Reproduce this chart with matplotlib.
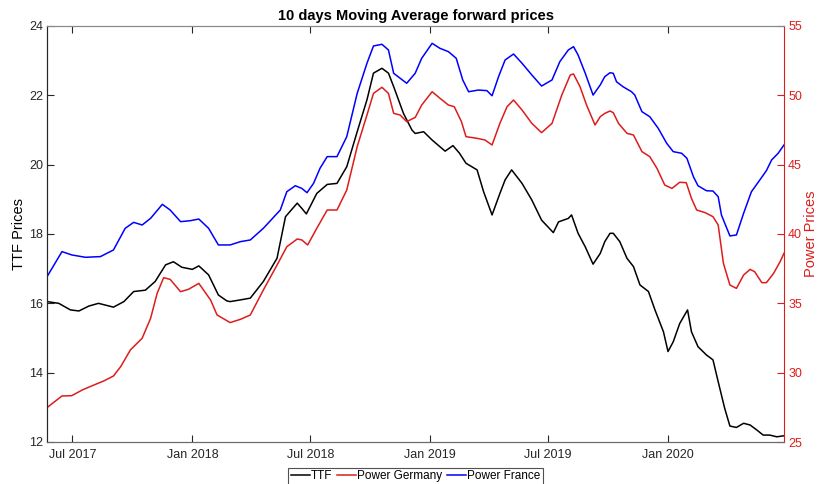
import matplotlib
matplotlib.use("Agg")
import matplotlib.pyplot as plt
import matplotlib.dates as mdates
import pandas as pd

plt.rcParams['font.family'] = ['Liberation Sans', 'DejaVu Sans']

# ---------------- data ----------------
ttf_dates = ["2017-05-23", "2017-06-10", "2017-06-28", "2017-07-11", "2017-07-26", "2017-08-10",
             "2017-09-02", "2017-09-18", "2017-10-03", "2017-10-21", "2017-11-05", "2017-11-21",
             "2017-12-03", "2017-12-16", "2018-01-01", "2018-01-11", "2018-01-26", "2018-02-10",
             "2018-02-23", "2018-02-28", "2018-03-16", "2018-03-31", "2018-04-20", "2018-05-11",
             "2018-05-24", "2018-06-11", "2018-06-18", "2018-06-25", "2018-07-11", "2018-07-27",
             "2018-08-11", "2018-08-26", "2018-09-11", "2018-09-26", "2018-10-06", "2018-10-19",
             "2018-10-29", "2018-11-06", "2018-11-21", "2018-12-04", "2018-12-09", "2018-12-22",
             "2019-01-04", "2019-01-24", "2019-02-05", "2019-02-15", "2019-02-25", "2019-03-14",
             "2019-03-24", "2019-04-06", "2019-04-18", "2019-04-26", "2019-05-06", "2019-05-22",
             "2019-06-06", "2019-06-21", "2019-07-09", "2019-07-17", "2019-08-01", "2019-08-06",
             "2019-08-16", "2019-08-27", "2019-09-08", "2019-09-19", "2019-09-26", "2019-10-04",
             "2019-10-09", "2019-10-19", "2019-10-30", "2019-11-09", "2019-11-19", "2019-12-02",
             "2019-12-12", "2019-12-25", "2020-01-01", "2020-01-09", "2020-01-19", "2020-01-31",
             "2020-02-06", "2020-02-16", "2020-02-29", "2020-03-10", "2020-03-18", "2020-03-28",
             "2020-04-05", "2020-04-15", "2020-04-26", "2020-05-06", "2020-05-16", "2020-05-26",
             "2020-06-05", "2020-06-16", "2020-06-27"]
ttf_values = [16.05, 16.00, 15.81, 15.78, 15.92, 16.00,
              15.89, 16.05, 16.34, 16.38, 16.63, 17.11,
              17.20, 17.04, 16.98, 17.08, 16.82, 16.24,
              16.07, 16.05, 16.10, 16.15, 16.63, 17.30,
              18.50, 18.89, 18.74, 18.58, 19.17, 19.43,
              19.46, 19.94, 20.95, 21.87, 22.64, 22.78,
              22.64, 22.25, 21.48, 21.00, 20.90, 20.95,
              20.71, 20.39, 20.55, 20.33, 20.04, 19.85,
              19.22, 18.55, 19.17, 19.56, 19.85, 19.46,
              18.98, 18.40, 18.04, 18.35, 18.45, 18.55,
              18.02, 17.63, 17.13, 17.44, 17.78, 18.02,
              18.02, 17.78, 17.30, 17.06, 16.53, 16.34,
              15.81, 15.18, 14.61, 14.89, 15.42, 15.81,
              15.18, 14.75, 14.51, 14.37, 13.74, 12.97,
              12.46, 12.42, 12.54, 12.49, 12.35, 12.20,
              12.20, 12.15, 12.18]

de_dates = ["2017-05-23", "2017-06-15", "2017-06-30", "2017-07-16", "2017-08-03", "2017-08-18",
            "2017-09-02", "2017-09-13", "2017-09-28", "2017-10-16", "2017-10-29", "2017-11-08",
            "2017-11-18", "2017-11-28", "2017-12-14", "2017-12-26", "2018-01-11", "2018-01-29",
            "2018-02-08", "2018-02-23", "2018-02-28", "2018-03-16", "2018-03-31", "2018-04-20",
            "2018-05-11", "2018-05-26", "2018-06-11", "2018-06-18", "2018-06-27", "2018-07-11",
            "2018-07-27", "2018-08-11", "2018-08-26", "2018-09-11", "2018-09-26", "2018-10-06",
            "2018-10-19", "2018-10-29", "2018-11-06", "2018-11-16", "2018-11-26", "2018-12-06",
            "2018-12-09", "2018-12-19", "2019-01-04", "2019-01-16", "2019-01-29", "2019-02-07",
            "2019-02-18", "2019-02-25", "2019-03-14", "2019-03-26", "2019-04-06", "2019-04-18",
            "2019-04-29", "2019-05-09", "2019-05-22", "2019-06-06", "2019-06-21", "2019-07-07",
            "2019-07-22", "2019-08-04", "2019-08-09", "2019-08-19", "2019-08-29", "2019-09-11",
            "2019-09-19", "2019-09-26", "2019-10-04", "2019-10-09", "2019-10-17", "2019-10-30",
            "2019-11-09", "2019-11-22", "2019-12-04", "2019-12-15", "2019-12-27", "2020-01-07",
            "2020-01-19", "2020-01-29", "2020-02-06", "2020-02-14", "2020-02-27", "2020-03-10",
            "2020-03-18", "2020-03-26", "2020-04-05", "2020-04-15", "2020-04-26", "2020-05-06",
            "2020-05-13", "2020-05-24", "2020-05-31", "2020-06-11", "2020-06-21", "2020-06-27"]
de_values = [27.48, 28.32, 28.34, 28.75, 29.11, 29.40,
             29.76, 30.43, 31.64, 32.48, 33.92, 35.72,
             36.85, 36.73, 35.84, 36.01, 36.44, 35.24,
             34.16, 33.75, 33.61, 33.85, 34.16, 35.96,
             37.76, 39.08, 39.64, 39.57, 39.21, 40.41,
             41.73, 41.73, 43.17, 46.30, 48.58, 50.14,
             50.58, 50.14, 48.70, 48.58, 48.10, 48.34,
             48.40, 49.30, 50.26, 49.79, 49.30, 49.18,
             48.10, 47.02, 46.90, 46.78, 46.42, 47.98,
             49.18, 49.66, 48.94, 47.98, 47.31, 47.98,
             50.02, 51.47, 51.54, 50.62, 49.30, 47.86,
             48.46, 48.70, 48.87, 48.75, 47.98, 47.26,
             47.14, 45.94, 45.58, 44.74, 43.53, 43.29,
             43.73, 43.70, 42.57, 41.73, 41.54, 41.25,
             40.65, 37.89, 36.32, 36.08, 37.04, 37.45,
             37.28, 36.49, 36.49, 37.16, 38.00, 38.61]

fr_dates = ["2017-05-23", "2017-06-15", "2017-06-30", "2017-07-21", "2017-08-13", "2017-09-02",
            "2017-09-20", "2017-10-03", "2017-10-16", "2017-10-29", "2017-11-16", "2017-11-28",
            "2017-12-14", "2017-12-29", "2018-01-11", "2018-01-26", "2018-02-10", "2018-02-28",
            "2018-03-16", "2018-03-31", "2018-04-20", "2018-05-16", "2018-05-26", "2018-06-08",
            "2018-06-18", "2018-06-26", "2018-07-06", "2018-07-16", "2018-07-27", "2018-08-11",
            "2018-08-26", "2018-09-11", "2018-09-26", "2018-10-06", "2018-10-19", "2018-10-29",
            "2018-11-06", "2018-11-16", "2018-11-26", "2018-12-09", "2018-12-19", "2019-01-04",
            "2019-01-16", "2019-01-29", "2019-02-10", "2019-02-20", "2019-03-01", "2019-03-16",
            "2019-03-29", "2019-04-06", "2019-04-16", "2019-04-26", "2019-05-09", "2019-05-22",
            "2019-06-06", "2019-06-21", "2019-07-07", "2019-07-19", "2019-08-01", "2019-08-09",
            "2019-08-16", "2019-08-27", "2019-09-08", "2019-09-19", "2019-09-26", "2019-10-04",
            "2019-10-09", "2019-10-14", "2019-10-24", "2019-11-06", "2019-11-11", "2019-11-22",
            "2019-12-04", "2019-12-17", "2019-12-30", "2020-01-09", "2020-01-22", "2020-01-30",
            "2020-02-09", "2020-02-16", "2020-02-29", "2020-03-10", "2020-03-18", "2020-03-23",
            "2020-04-05", "2020-04-15", "2020-04-26", "2020-05-08", "2020-05-19", "2020-05-31",
            "2020-06-08", "2020-06-18", "2020-06-27"]
fr_values = [36.92, 38.73, 38.49, 38.32, 38.37, 38.85,
             40.41, 40.84, 40.65, 41.13, 42.14, 41.73,
             40.89, 40.96, 41.08, 40.41, 39.21, 39.21,
             39.45, 39.57, 40.41, 41.73, 43.05, 43.48,
             43.29, 42.98, 43.65, 44.74, 45.58, 45.58,
             47.02, 50.14, 52.31, 53.56, 53.68, 53.27,
             51.59, 51.23, 50.87, 51.59, 52.67, 53.75,
             53.39, 53.15, 52.67, 51.11, 50.26, 50.38,
             50.34, 49.97, 51.35, 52.55, 52.98, 52.31,
             51.47, 50.67, 51.11, 52.43, 53.27, 53.51,
             52.91, 51.59, 50.02, 50.75, 51.35, 51.63,
             51.59, 50.98, 50.62, 50.26, 50.02, 48.82,
             48.46, 47.62, 46.54, 45.94, 45.82, 45.46,
             44.13, 43.48, 43.12, 43.10, 42.69, 41.37,
             39.86, 39.93, 41.49, 43.05, 43.77, 44.57,
             45.34, 45.82, 46.42]

series_names = ["TTF", "Power Germany", "Power France"]
title_text = "10 days Moving Average forward prices"
left_label = "TTF Prices"
right_label = "Power Prices"
ttf_ticks = [12, 14, 16, 18, 20, 22, 24]
power_ticks = [25, 30, 35, 40, 45, 50, 55]
x_tick_dates = ["2017-07-01", "2018-01-01", "2018-07-01", "2019-01-01", "2019-07-01", "2020-01-01"]

# ---------------- plotting ----------------
RED = "#dd1c1c"
AXC = "#262626"

ttf_x = pd.to_datetime(ttf_dates)
de_x = pd.to_datetime(de_dates)
fr_x = pd.to_datetime(fr_dates)

fig = plt.figure(figsize=(8.2, 4.84), dpi=100)
ax = fig.add_axes([47/820, 42/484, (784-47)/820, (442-26)/484])
ax2 = ax.twinx()

l1, = ax.plot(ttf_x, ttf_values, color="black", lw=1.1)
l2, = ax2.plot(de_x, de_values, color=RED, lw=1.1)
l3, = ax2.plot(fr_x, fr_values, color="blue", lw=1.1)

ax.set_ylim(12, 24)
ax.set_yticks(ttf_ticks)
ax2.set_ylim(25, 55)
ax2.set_yticks(power_ticks)
ax.set_xlim(ttf_x.min(), ttf_x.max())

ax.set_xticks(pd.to_datetime(x_tick_dates))
ax.xaxis.set_major_formatter(mdates.DateFormatter("%b %Y"))

ax.tick_params(axis="x", direction="in", length=5, width=0.8, colors=AXC,
               labelsize=9, top=True, pad=5)
ax.tick_params(axis="y", direction="in", length=5, width=0.8, colors=AXC,
               labelsize=9, pad=3)
ax2.tick_params(axis="y", direction="in", length=5, width=0.8, colors=RED,
                labelsize=9, pad=3)

for s in ["left", "bottom", "top"]:
    ax.spines[s].set_color(AXC)
    ax.spines[s].set_linewidth(0.8)
    ax2.spines[s].set_color(AXC)
    ax2.spines[s].set_linewidth(0.8)
ax.spines["right"].set_visible(False)
ax2.spines["right"].set_color(RED)
ax2.spines["right"].set_linewidth(0.8)
ax2.spines["top"].set_color("#8a8a8a")
ax.spines["top"].set_color("#8a8a8a")
ax.spines["bottom"].set_color("#6a6a6a")
ax2.spines["bottom"].set_color("#6a6a6a")

ax.set_ylabel(left_label, fontsize=10.5, color="black", labelpad=2)
ax2.set_ylabel(right_label, fontsize=10.5, color=RED, labelpad=1.5)
ax.set_title(title_text, fontsize=10.5, fontweight="bold", pad=4)

leg = fig.legend([l1, l2, l3], series_names, loc="upper center",
                 bbox_to_anchor=(0.507, 0.034), ncol=3, fontsize=8.5,
                 frameon=True, fancybox=False, handlelength=1.6,
                 handletextpad=0.1, columnspacing=0.4, borderpad=0.25,
                 borderaxespad=0)
leg.get_frame().set_edgecolor(AXC)
leg.get_frame().set_linewidth(0.8)

fig.savefig("out.png", dpi=100)
